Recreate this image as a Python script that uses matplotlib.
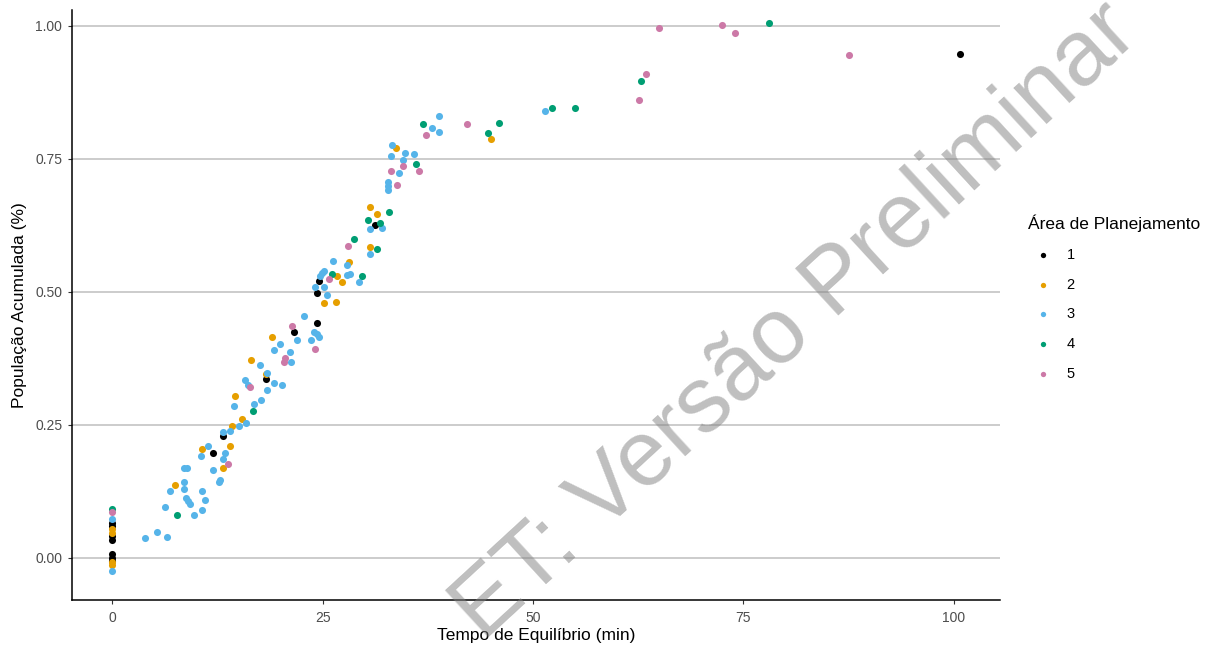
import matplotlib
matplotlib.use("Agg")
import matplotlib.pyplot as plt
import numpy as np

# ---- data ----
areas = ["1", "2", "3", "4", "5"]
colors = ["#000000", "#E69F00", "#56B4E9", "#009E73", "#CC79A7"]

x_area1 = [0, 0, 0, 0, 0, 0, 0, 12.0, 13.2, 18.2, 21.6, 24.3, 24.3, 24.5, 31.2, 100.7]
y_area1 = [0.066, 0.060, 0.042, 0.034, 0.008, 0.0, -0.005, 0.198, 0.229, 0.336, 0.425,
           0.442, 0.498, 0.520, 0.625, 0.947]

x_area2 = [0, 0, 0, 0, 7.5, 10.7, 13.1, 14.0, 14.2, 15.4, 14.6, 16.5, 18.2, 19.0, 25.1,
           26.6, 27.3, 26.7, 28.1, 30.6, 30.6, 31.4, 33.7, 45.0]
y_area2 = [0.055, 0.047, -0.008, -0.013, 0.137, 0.204, 0.169, 0.211, 0.249, 0.261, 0.305,
           0.372, 0.346, 0.416, 0.479, 0.482, 0.518, 0.530, 0.556, 0.584, 0.659, 0.647,
           0.770, 0.787]

x_area3 = [0, 0, 3.9, 5.3, 6.5, 6.3, 6.9, 8.5, 8.5, 8.5, 8.9, 8.7, 9.0, 9.2, 9.7, 10.7,
           10.7, 11.0, 10.5, 11.4, 12.0, 12.7, 12.8, 13.1, 13.4, 13.2, 14.0, 15.1, 15.9,
           14.4, 16.8, 17.7, 18.4, 15.8, 16.1, 19.2, 20.2, 17.5, 18.4, 19.2, 19.9, 21.1,
           21.2, 22.0, 22.8, 23.6, 24.0, 24.3, 24.5, 24.1, 25.2, 25.5, 24.7, 24.9, 25.2,
           26.2, 27.9, 27.9, 28.3, 29.3, 30.6, 30.6, 32.1, 32.8, 32.8, 32.8, 33.1, 33.2,
           34.1, 34.5, 34.8, 35.8, 38.0, 38.8, 38.8, 51.4]
y_area3 = [0.073, -0.024, 0.037, 0.049, 0.040, 0.096, 0.125, 0.142, 0.130, 0.169, 0.169,
           0.112, 0.107, 0.101, 0.081, 0.090, 0.125, 0.109, 0.192, 0.211, 0.165, 0.143,
           0.147, 0.186, 0.198, 0.236, 0.239, 0.249, 0.254, 0.286, 0.289, 0.296, 0.315,
           0.335, 0.326, 0.328, 0.325, 0.363, 0.348, 0.391, 0.403, 0.388, 0.369, 0.410,
           0.454, 0.410, 0.425, 0.421, 0.415, 0.509, 0.509, 0.495, 0.530, 0.535, 0.540,
           0.559, 0.551, 0.531, 0.533, 0.518, 0.571, 0.618, 0.621, 0.707, 0.699, 0.691,
           0.756, 0.776, 0.723, 0.748, 0.762, 0.759, 0.809, 0.801, 0.831, 0.840]

x_area4 = [0, 7.7, 16.7, 26.1, 29.7, 28.7, 31.4, 30.4, 31.8, 32.9, 36.1, 36.9, 44.7, 46.0,
           52.3, 55.0, 62.8, 78.0]
y_area4 = [0.092, 0.081, 0.276, 0.533, 0.530, 0.600, 0.581, 0.635, 0.630, 0.650, 0.740,
           0.815, 0.799, 0.818, 0.846, 0.846, 0.897, 1.005]

x_area5 = [0, 13.8, 16.3, 20.4, 20.5, 21.4, 24.1, 25.7, 28.0, 33.1, 33.8, 34.6, 36.5, 37.3,
           42.2, 62.6, 63.4, 65.0, 72.4, 74.0, 87.5]
y_area5 = [0.086, 0.176, 0.322, 0.369, 0.376, 0.436, 0.393, 0.524, 0.587, 0.727, 0.701,
           0.736, 0.727, 0.795, 0.815, 0.860, 0.910, 0.996, 1.002, 0.986, 0.945]

xs = [x_area1, x_area2, x_area3, x_area4, x_area5]
ys = [y_area1, y_area2, y_area3, y_area4, y_area5]

x_ticks = [0, 25, 50, 75, 100]
y_ticks = [0.00, 0.25, 0.50, 0.75, 1.00]
y_ticklabels = ["0.00", "0.25", "0.50", "0.75", "1.00"]

x_title = "Tempo de Equilíbrio (min)"
y_title = "População Acumulada (%)"
legend_title = "Área de Planejamento"
watermark = "ET: Versão Preliminar"

# ---- figure ----
plt.rcParams['font.family'] = ['Liberation Sans', 'DejaVu Sans']
W, H = 1205, 648
fig = plt.figure(figsize=(W / 100, H / 100), dpi=100)
ax = fig.add_axes([72 / W, (H - 600) / H, (1000 - 72) / W, (600 - 10) / H])

handles = []
for xv, yv, c, lab in zip(xs, ys, colors, areas):
    h = ax.scatter(xv, yv, s=26, color=c, linewidths=0, label=lab, zorder=3)
    handles.append(h)

ax.set_xlim(-4.8, 105.5)
ax.set_ylim(-0.079, 1.030)
ax.set_xticks(x_ticks)
ax.set_yticks(y_ticks)
ax.set_yticklabels(y_ticklabels)
ax.yaxis.grid(True, color="#BEBEBE", linewidth=1.1, zorder=0)
ax.xaxis.grid(False)
ax.set_axisbelow(True)
for s in ["top", "right"]:
    ax.spines[s].set_visible(False)
for s in ["left", "bottom"]:
    ax.spines[s].set_linewidth(1.1)
    ax.spines[s].set_color("black")
ax.tick_params(axis="both", length=3, width=0.8, color="#333333",
               labelcolor="#4D4D4D", labelsize=10)
ax.tick_params(axis="x", pad=5)
ax.tick_params(axis="y", pad=4)

ax.set_xlabel(x_title, fontsize=12.5, labelpad=2)
ax.set_ylabel(y_title, fontsize=12.5, labelpad=6)

leg = ax.legend(handles=handles, title=legend_title, loc="upper left",
                bbox_to_anchor=(1028 / W, 1 - 215 / H), bbox_transform=fig.transFigure,
                frameon=False, fontsize=10.5, title_fontsize=12.5,
                markerscale=0.75, handlelength=2.1, handletextpad=0.55,
                labelspacing=1.08, borderpad=0, borderaxespad=0, alignment="left")
leg._legend_box.sep = 11

# watermark
fig.text(483 / W, 1 - 642 / H, watermark, fontsize=67, color="gray", alpha=0.5,
         rotation=42.6, rotation_mode="anchor", ha="left", va="baseline", zorder=10)

fig.savefig("out.png", dpi=100)
